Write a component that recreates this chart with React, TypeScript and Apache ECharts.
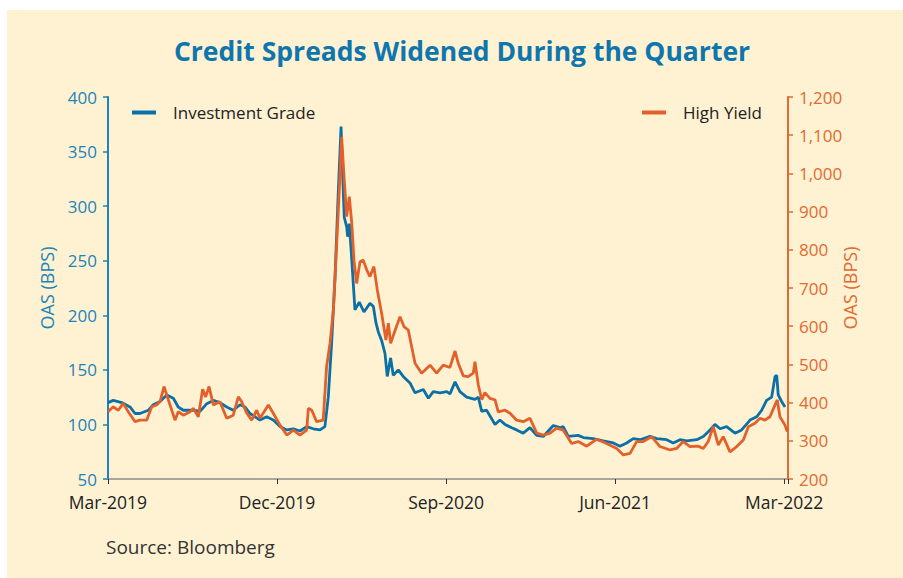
import React, { useEffect, useRef } from 'react';
import * as echarts from 'echarts';

// x values are months since Mar-2019
const xTickLabels = ['Mar-2019', 'Dec-2019', 'Sep-2020', 'Jun-2021', 'Mar-2022'];

const igMonths = [
  0, 0.28, 0.73, 1.17, 1.44, 1.7, 2.15, 2.41, 2.77, 3.13, 3.48, 3.74, 4.01, 4.54, 4.9, 5.26, 5.61, 5.96,
  6.32, 6.67, 7.03, 7.3, 7.56, 8.09, 8.45, 8.8, 9.16, 9.52, 9.87, 10.22, 10.58, 10.93, 11.29, 11.55,
  11.73, 11.91, 12.09, 12.26, 12.41, 12.5, 12.58, 12.71, 12.76, 12.85, 12.98, 13.15, 13.38, 13.63,
  13.95, 14.13, 14.27, 14.39, 14.57, 14.75, 14.87, 15.05, 15.19, 15.46, 15.72, 16.08, 16.35, 16.79,
  17.06, 17.32, 17.68, 18.04, 18.21, 18.48, 18.74, 19.1, 19.54, 19.72, 19.9, 20.16, 20.61, 20.87,
  21.14, 21.5, 21.76, 22.11, 22.47, 22.83, 23.18, 23.71, 24.07, 24.24, 24.51, 25.04, 25.31, 25.84,
  26.37, 26.91, 27.26, 27.62, 27.97, 28.33, 28.86, 29.22, 29.75, 30.1, 30.46, 30.81, 31.35, 31.7,
  32.06, 32.32, 32.59, 32.94, 33.39, 33.74, 34.19, 34.54, 34.81, 35.07, 35.34, 35.52, 35.61, 35.69,
  35.87, 36.05,
];
const igValues = [
  120, 122, 120, 116, 110, 110, 113, 118, 121, 127, 124, 116, 113, 113, 112, 119, 122, 120,
  116, 113, 118, 116, 110, 104, 107, 104, 98, 95, 96, 94, 98, 96, 95, 98,
  125, 175, 235, 312, 373, 327, 290, 281, 272, 284, 251, 205, 212, 203,
  211, 208, 193, 185, 177, 165, 144, 161, 145, 150, 144, 138, 129, 132,
  124, 130, 129, 130, 128, 139, 130, 125, 123, 125, 112, 113, 100, 104,
  100, 97, 95, 92, 97, 90, 89, 99, 97, 98, 89, 90, 88, 87,
  85, 83, 80, 83, 87, 86, 89, 87, 86, 83, 86, 85, 86, 89,
  95, 100, 96, 98, 92, 95, 104, 107, 113, 122, 125, 144, 145, 127,
  121, 116,
];

const hyMonths = [
  0, 0.28, 0.55, 0.81, 1.08, 1.44, 1.7, 2.06, 2.33, 2.59, 2.77, 2.98, 3.13, 3.3, 3.57, 3.74, 4.01, 4.37,
  4.54, 4.81, 5.04, 5.2, 5.38, 5.61, 5.96, 6.32, 6.67, 6.94, 7.12, 7.39, 7.65, 7.92, 8.09, 8.54, 8.8,
  9.16, 9.52, 9.87, 10.22, 10.58, 10.67, 10.85, 11.11, 11.46, 11.64, 11.82, 12.0, 12.18, 12.35, 12.44,
  12.57, 12.71, 12.85, 12.98, 13.1, 13.24, 13.42, 13.59, 13.78, 13.95, 14.16, 14.34, 14.57, 14.8, 14.93,
  15.05, 15.23, 15.55, 15.76, 15.99, 16.35, 16.7, 17.15, 17.5, 17.85, 18.21, 18.48, 18.65, 18.92, 19.18,
  19.45, 19.54, 19.72, 19.9, 20.07, 20.34, 20.61, 20.78, 21.14, 21.41, 21.76, 22.11, 22.47, 22.83, 23.18,
  23.54, 23.89, 24.24, 24.69, 25.04, 25.49, 26.02, 26.55, 27.09, 27.44, 27.8, 28.15, 28.5, 28.95, 29.39,
  29.93, 30.28, 30.63, 30.99, 31.43, 31.7, 31.96, 32.23, 32.5, 32.76, 33.12, 33.48, 33.83, 34.1, 34.45,
  34.72, 34.98, 35.25, 35.52, 35.64, 35.78, 36.05, 36.17,
];
const hyValues = [
  376, 389, 380, 398, 376, 350, 354, 354, 389, 394, 402, 442, 420, 394, 354, 376, 367, 376,
  385, 363, 435, 415, 442, 394, 402, 359, 367, 415, 402, 372, 354, 380, 359, 394, 372,
  341, 315, 328, 315, 328, 385, 380, 350, 354, 494, 555, 642, 817, 991, 1096,
  991, 887, 939, 869, 773, 712, 769, 773, 747, 730, 756, 695, 634, 564, 608,
  555, 581, 625, 599, 590, 503, 477, 498, 477, 498, 492, 535, 503, 470, 468,
  477, 507, 446, 408, 426, 411, 407, 376, 380, 372, 354, 350, 359, 320, 315,
  320, 333, 328, 293, 298, 286, 304, 293, 280, 263, 267, 298, 298, 311, 285,
  276, 280, 298, 285, 286, 280, 298, 337, 289, 311, 271, 285, 302, 337, 346,
  359, 354, 363, 394, 407, 363, 341, 324,
];

const FONT = "'Open Sans', sans-serif";
const BLUE = '#0A70A6';
const BLUE_AXIS = '#1C84BA';
const ORANGE = '#E2602A';
const ORANGE_AXIS = '#E2692F';

export default function App() {
  const ref = useRef<HTMLDivElement>(null);

  useEffect(() => {
    const chart = echarts.init(ref.current!, null, { renderer: 'svg' });
    const igData = igMonths.map((m, i) => [m, igValues[i]]);
    const hyData = hyMonths.map((m, i) => [m, hyValues[i]]);

    const legendBase = {
      top: 104,
      padding: 0,
      icon: 'rect',
      itemWidth: 24,
      itemHeight: 4,
      selectedMode: false,
      textStyle: { fontSize: 17, color: '#222', fontFamily: FONT, padding: [0, 0, 0, 12] },
    };

    chart.setOption({
      animation: false,
      backgroundColor: '#ffffff',
      textStyle: { fontFamily: FONT },
      graphic: [
        {
          type: 'rect',
          z: -10,
          silent: true,
          shape: { x: 7, y: 10, width: 896, height: 568 },
          style: { fill: '#FFF2D3' },
        },
        {
          type: 'text',
          x: 462,
          y: 51,
          style: {
            text: 'Credit Spreads Widened During the Quarter',
            fill: '#0E76AD',
            font: `bold 26.5px ${FONT}`,
            textAlign: 'center',
            textVerticalAlign: 'middle',
          },
        },
        {
          type: 'text',
          x: 106,
          y: 547,
          style: {
            text: 'Source: Bloomberg',
            fill: '#333333',
            font: `19px ${FONT}`,
            textAlign: 'left',
            textVerticalAlign: 'middle',
          },
        },
      ],
      legend: [
        { ...legendBase, data: ['Investment Grade'], left: 132 },
        { ...legendBase, data: ['High Yield'], left: 642 },
      ],
      grid: { left: 108, right: 115, top: 97, bottom: 99, containLabel: false },
      xAxis: {
        type: 'value',
        min: 0,
        max: 36.21,
        interval: 9,
        axisLine: { show: true, lineStyle: { color: '#8C8C8C', width: 1.5 } },
        axisTick: { show: true, length: 5, lineStyle: { color: '#333', width: 1 } },
        axisLabel: {
          color: '#222',
          fontSize: 17.5,
          lineHeight: 18,
          fontFamily: FONT,
          margin: 14,
          formatter: (v: number) => {
            const r = Math.round(v);
            return Math.abs(v - r) < 1e-6 && r % 9 === 0 ? xTickLabels[r / 9] : '';
          },
        },
        splitLine: { show: false },
      },
      yAxis: [
        {
          type: 'value',
          position: 'left',
          min: 50,
          max: 400,
          interval: 50,
          name: 'OAS (BPS)',
          nameLocation: 'middle',
          nameGap: 52,
          nameMoveOverlap: false,
          nameTextStyle: { color: BLUE_AXIS, fontSize: 18, fontFamily: FONT },
          axisLine: { show: true, lineStyle: { color: BLUE_AXIS, width: 2 } },
          axisTick: { show: true, length: 5, lineStyle: { color: BLUE_AXIS, width: 1.5 } },
          axisLabel: { color: BLUE_AXIS, fontSize: 17, lineHeight: 15, fontFamily: FONT, margin: 11 },
          splitLine: { show: false },
        },
        {
          type: 'value',
          position: 'right',
          min: 200,
          max: 1200,
          interval: 100,
          name: 'OAS (BPS)',
          nameLocation: 'middle',
          nameGap: 53,
          nameMoveOverlap: false,
          nameTextStyle: { color: ORANGE_AXIS, fontSize: 18, fontFamily: FONT },
          axisLine: { show: true, lineStyle: { color: ORANGE_AXIS, width: 2 } },
          axisTick: { show: true, length: 5, lineStyle: { color: ORANGE_AXIS, width: 1.5 } },
          axisLabel: {
            color: ORANGE_AXIS,
            fontSize: 17,
            lineHeight: 15,
            fontFamily: FONT,
            margin: 11,
            formatter: (v: number) => v.toLocaleString('en-US'),
          },
          splitLine: { show: false },
        },
      ],
      series: [
        {
          name: 'Investment Grade',
          type: 'line',
          yAxisIndex: 0,
          data: igData,
          showSymbol: false,
          symbol: 'none',
          color: BLUE,
          lineStyle: { color: BLUE, width: 2.8 },
          z: 2,
        },
        {
          name: 'High Yield',
          type: 'line',
          yAxisIndex: 1,
          data: hyData,
          showSymbol: false,
          symbol: 'none',
          color: ORANGE,
          lineStyle: { color: ORANGE, width: 2.8 },
          z: 3,
        },
      ],
    });

    return () => chart.dispose();
  }, []);

  return (
    <div
      ref={ref}
      style={{ position: 'fixed', left: 0, top: 0, width: 903, height: 578, background: '#fff' }}
    />
  );
}
